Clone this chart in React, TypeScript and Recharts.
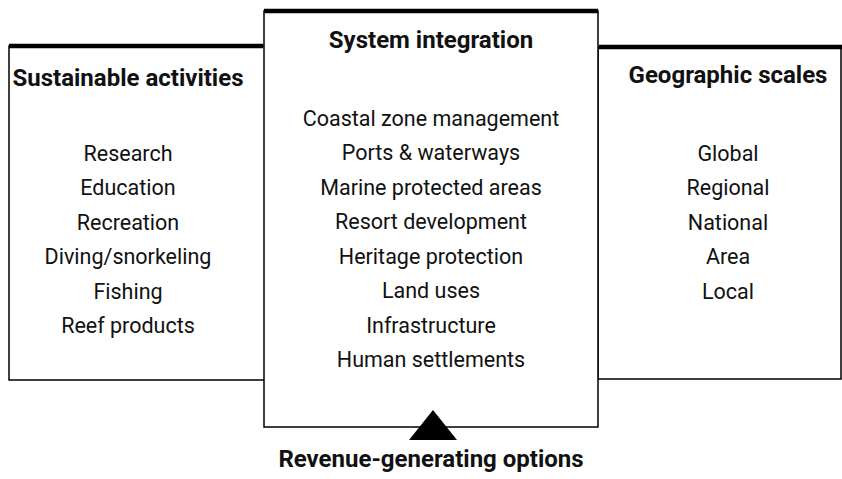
import React from "react";
import {
  ComposedChart,
  XAxis,
  YAxis,
  Scatter,
  ReferenceArea,
  ReferenceLine,
} from "recharts";

// ---- content ----
const titles = ["Sustainable activities", "System integration", "Geographic scales"];
const activities = [
  "Research",
  "Education",
  "Recreation",
  "Diving/snorkeling",
  "Fishing",
  "Reef products",
];
const integration = [
  "Coastal zone management",
  "Ports & waterways",
  "Marine protected areas",
  "Resort development",
  "Heritage protection",
  "Land uses",
  "Infrastructure",
  "Human settlements",
];
const scales = ["Global", "Regional", "National", "Area", "Local"];
const footer = "Revenue-generating options";

// ---- layout (diagram units = pixels) ----
const W = 842;
const H = 479;
const colX = [128, 431, 728];
const titleY = [78, 40, 75];
const listStartY = [153, 118, 153];
const rowStep = 34.5;

const FONT = "Roboto, 'Liberation Sans', sans-serif";

const lists = [activities, integration, scales];

const titleData = titles.map((t, i) => ({ x: colX[i], y: titleY[i], label: t }));
const itemData = lists.flatMap((list, c) =>
  list.map((t, i) => ({ x: colX[c], y: listStartY[c] + i * rowStep, label: t }))
);
const footerData = [{ x: 431, y: 459, label: footer }];
const arrowData = [{ x: 433, y: 429 }];

const TextShape = (bold: boolean, size: number) => (props: any) => {
  const { cx, cy, payload } = props;
  return (
    <text
      x={cx}
      y={cy}
      textAnchor="middle"
      dominantBaseline="central"
      fontFamily={FONT}
      fontSize={size}
      fontWeight={bold ? 700 : 400}
      fill="#111"
    >
      {payload.label}
    </text>
  );
};

const TriangleShape = (props: any) => {
  const { cx, cy } = props;
  return (
    <polygon
      points={`${cx},${cy - 19} ${cx - 24},${cy + 11} ${cx + 24},${cy + 11}`}
      fill="#000"
    />
  );
};

export default function App() {
  return (
    <div style={{ position: "absolute", left: 0, top: 0, width: W, height: H, background: "#fff" }}>
      <ComposedChart width={W} height={H} margin={{ top: 0, right: 0, bottom: 0, left: 0 }}>
        <XAxis type="number" dataKey="x" domain={[0, W]} hide allowDataOverflow />
        <YAxis type="number" dataKey="y" domain={[0, H]} reversed hide allowDataOverflow />

        {/* left box */}
        <ReferenceArea x1={9} x2={265} y1={46} y2={380} fill="#fff" fillOpacity={1} stroke="#000" strokeWidth={1.5} ifOverflow="visible" />
        {/* right box */}
        <ReferenceArea x1={598} x2={841} y1={47} y2={379} fill="#fff" fillOpacity={1} stroke="#000" strokeWidth={1.5} ifOverflow="visible" />
        {/* center box */}
        <ReferenceArea x1={264} x2={598} y1={11} y2={427} fill="#fff" fillOpacity={1} stroke="#000" strokeWidth={1.5} ifOverflow="visible" />

        {/* thick top rules */}
        <ReferenceLine segment={[{ x: 9, y: 46 }, { x: 263, y: 46 }]} stroke="#000" strokeWidth={4.5} ifOverflow="visible" />
        <ReferenceLine segment={[{ x: 264, y: 11 }, { x: 598, y: 11 }]} stroke="#000" strokeWidth={4.5} ifOverflow="visible" />
        <ReferenceLine segment={[{ x: 599, y: 47 }, { x: 842, y: 47 }]} stroke="#000" strokeWidth={4.5} ifOverflow="visible" />

        <Scatter data={arrowData} shape={TriangleShape} isAnimationActive={false} />
        <Scatter data={titleData} shape={TextShape(true, 24)} isAnimationActive={false} />
        <Scatter data={itemData} shape={TextShape(false, 21.5)} isAnimationActive={false} />
        <Scatter data={footerData} shape={TextShape(true, 24)} isAnimationActive={false} />
      </ComposedChart>
    </div>
  );
}
